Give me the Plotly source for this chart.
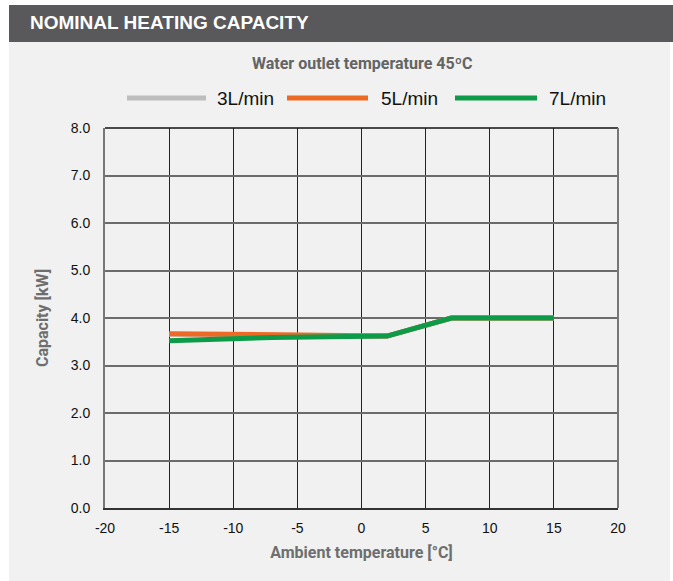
import plotly.graph_objects as go

# ---- data ----
x_temp = [-15, -7, 2, 7, 15]
cap_3 = [3.66, 3.63, 3.62, 4.0, 4.0]
cap_5 = [3.67, 3.64, 3.62, 4.0, 4.0]
cap_7 = [3.52, 3.59, 3.62, 4.0, 4.0]
series_names = ["3L/min", "5L/min", "7L/min"]
series_colors = ["#bdbdbd", "#ee6a24", "#0c9b48"]
x_ticks = [-20, -15, -10, -5, 0, 5, 10, 15, 20]
x_tick_labels = ["-20", "-15", "-10", "-5", "0", "5", "10", "15", "20"]
y_ticks = [0, 1, 2, 3, 4, 5, 6, 7, 8]
y_tick_labels = ["0.0", "1.0", "2.0", "3.0", "4.0", "5.0", "6.0", "7.0", "8.0"]

W, H = 673, 581
L, R, T, B = 105, 618, 128, 508  # plot area in px


def px(xs):
    return (xs - L) / (R - L)


def py(ys):
    return (B - ys) / (B - T)


fig = go.Figure()
for name, ys, col in zip(series_names, [cap_3, cap_5, cap_7], series_colors):
    fig.add_trace(go.Scatter(x=x_temp, y=ys, mode="lines", name=name,
                             line=dict(color=col, width=5), showlegend=False,
                             hoverinfo="skip"))

shapes = [
    dict(type="rect", xref="paper", yref="paper", x0=px(9), x1=px(670), y0=py(590), y1=py(42),
         fillcolor="#f0f1f0", line=dict(width=0), layer="below"),
    dict(type="rect", xref="paper", yref="paper", x0=px(9), x1=px(680), y0=py(42), y1=py(5),
         fillcolor="#59595b", line=dict(width=0), layer="below"),
    dict(type="line", xref="paper", yref="paper", x0=0, x1=1, y0=1, y1=1,
         line=dict(color="#111111", width=1.5)),
    dict(type="line", xref="paper", yref="paper", x0=1, x1=1, y0=0, y1=1,
         line=dict(color="#777777", width=2)),
]

annotations = [
    dict(text="<b>NOMINAL HEATING CAPACITY</b>", xref="paper", yref="paper",
         x=px(28), y=py(23), xanchor="left", yanchor="middle", showarrow=False,
         font=dict(family="Liberation Sans, Arial", size=19, color="white")),
    dict(text="<b>Water outlet temperature 45ºC</b>", xref="paper", yref="paper",
         x=px(362), y=py(64), xanchor="center", yanchor="middle", showarrow=False,
         font=dict(family="Roboto", size=16, color="#646464")),
]

leg_items = [(127, 206, 215), (287, 368, 379), (455, 537, 547)]
for (x0, x1, xt), name, col in zip(leg_items, series_names, series_colors):
    shapes.append(dict(type="line", xref="paper", yref="paper", x0=px(x0), x1=px(x1),
                       y0=py(98), y1=py(98), line=dict(color=col, width=5)))
    annotations.append(dict(text=name, xref="paper", yref="paper", x=px(xt), y=py(98),
                            xanchor="left", yanchor="middle", showarrow=False,
                            font=dict(family="Liberation Sans, Arial", size=19, color="#111111")))

fig.update_layout(
    width=W, height=H,
    margin=dict(l=L, r=W - R, t=T, b=H - B),
    paper_bgcolor="white",
    plot_bgcolor="#f0f1f0",
    shapes=shapes,
    annotations=annotations,
    showlegend=False,
    font=dict(family="Liberation Sans, Arial", size=14, color="#111111"),
)
fig.update_xaxes(range=[-20, 20], tickvals=x_ticks, ticktext=x_tick_labels, showgrid=True,
                 gridcolor="#222222", gridwidth=1, zeroline=False, showline=True,
                 linecolor="#333333", linewidth=1.5, ticks="", ticklabelstandoff=6,
                 title=dict(text="<b>Ambient temperature [°C]</b>", standoff=12,
                            font=dict(family="Roboto", size=16, color="#6e6e6e")))
fig.update_yaxes(range=[0, 8], tickvals=y_ticks, ticktext=y_tick_labels, showgrid=True,
                 gridcolor="#6b6b6b", gridwidth=1.5, zeroline=False, showline=True,
                 linecolor="#777777", linewidth=2, ticks="", ticklabelstandoff=10,
                 title=dict(text="<b>Capacity [kW]</b>", standoff=18,
                            font=dict(family="Roboto", size=16, color="#6e6e6e")))

fig.write_html("out.html", config={"displayModeBar": False},
               post_script="document.body.style.margin='0';document.body.style.overflow='hidden';")
